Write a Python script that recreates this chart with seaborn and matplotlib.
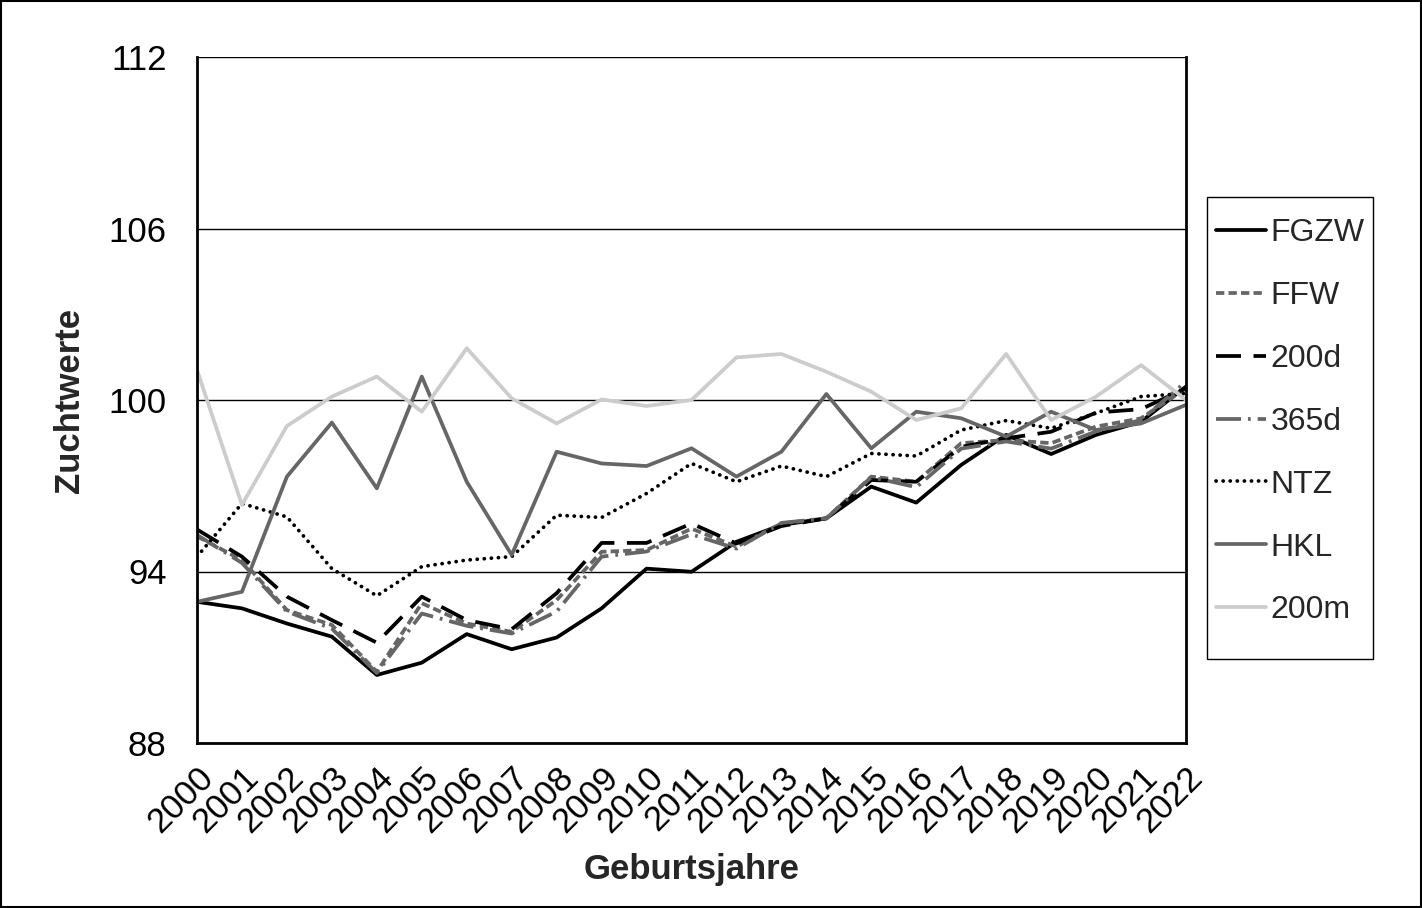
import numpy as np
import pandas as pd
import matplotlib
matplotlib.use("Agg")
import matplotlib.pyplot as plt
import seaborn as sns
from matplotlib.patches import Rectangle

years = list(range(2000, 2023))

fgzw = [92.94, 92.71, 92.18, 91.72, 90.38, 90.81, 91.81, 91.28, 91.69, 92.71, 94.10, 93.99,
        95.04, 95.63, 95.86, 96.97, 96.41, 97.73, 98.78, 98.11, 98.78, 99.24, 100.47]
ffw = [95.23, 94.40, 92.65, 92.13, 90.49, 92.89, 92.18, 91.89, 93.00, 94.69, 94.75, 95.50,
       94.87, 95.68, 95.86, 97.32, 97.14, 98.49, 98.60, 98.49, 99.07, 99.36, 100.41]
d200 = [95.47, 94.52, 93.12, 92.30, 91.51, 93.12, 92.30, 91.98, 93.24, 95.00, 95.00, 95.68,
        94.98, 95.59, 95.86, 97.20, 97.14, 98.36, 98.66, 98.89, 99.56, 99.68, 100.41]
d365 = [95.28, 94.30, 92.60, 92.00, 90.45, 92.53, 92.10, 91.83, 92.60, 94.52, 94.70, 95.30,
        94.80, 95.70, 95.86, 97.30, 96.95, 98.30, 98.55, 98.30, 98.90, 99.30, 100.64]
ntz = [94.52, 96.38, 95.91, 94.10, 93.15, 94.17, 94.40, 94.52, 95.97, 95.89, 96.73, 97.78,
       97.14, 97.69, 97.32, 98.13, 98.04, 98.95, 99.28, 99.01, 99.54, 100.12, 100.23]
hkl = [92.94, 93.29, 97.32, 99.21, 96.91, 100.82, 97.14, 94.58, 98.19, 97.78, 97.69, 98.31,
       97.32, 98.19, 100.21, 98.31, 99.59, 99.36, 98.72, 99.59, 98.95, 99.18, 99.83]
m200 = [101.05, 96.33, 99.09, 100.12, 100.82, 99.59, 101.81, 100.06, 99.18, 100.02, 99.79, 100.00,
        101.49, 101.61, 100.99, 100.29, 99.30, 99.71, 101.61, 99.30, 100.12, 101.22, 100.00]

series = ["FGZW", "FFW", "200d", "365d", "NTZ", "HKL", "200m"]
values = [fgzw, ffw, d200, d365, ntz, hkl, m200]

styles = {
    "FGZW": dict(color="#000000", ls="-"),
    "FFW": dict(color="#666666", ls=(0, (6, 3))),
    "200d": dict(color="#000000", ls=(0, (18, 9))),
    "365d": dict(color="#666666", ls=(0, (18, 5, 2, 5))),
    "NTZ": dict(color="#000000", ls=(0, (0.1, 5))),
    "HKL": dict(color="#666666", ls="-"),
    "200m": dict(color="#cccccc", ls="-"),
}

df = pd.DataFrame({"Jahr": years * len(series),
                   "Wert": sum(values, []),
                   "Serie": np.repeat(series, len(years))})

sns.set_style("white")
plt.rcParams["font.family"] = ["Liberation Sans", "DejaVu Sans"]
plt.rcParams["lines.scale_dashes"] = False

W, H = 1422, 908
fig = plt.figure(figsize=(W / 100, H / 100), dpi=100)
ax = fig.add_axes([197 / W, 1 - 743 / H, (1186 - 197) / W, (743 - 57) / H])

for name in series:
    st = styles[name]
    sns.lineplot(data=df[df["Serie"] == name], x="Jahr", y="Wert", ax=ax, label=name,
                 color=st["color"], linestyle=st["ls"], linewidth=2.7,
                 dash_capstyle="round" if name == "NTZ" else "butt")

ax.set_xlim(2000, 2022)
ax.set_ylim(88, 112)
ax.set_xticks(years)
ax.set_xticklabels([str(y) for y in years], rotation=45, ha="right", rotation_mode="anchor")
ax.set_yticks([88, 94, 100, 106, 112])
ax.tick_params(axis="both", labelsize=25, direction="out", length=7, width=1, colors="#000000")
ax.tick_params(axis="x", pad=6)
ax.tick_params(axis="y", pad=15)
for lab in ax.get_xticklabels() + ax.get_yticklabels():
    lab.set_color("black")
ax.grid(axis="y", color="black", linewidth=1)
ax.grid(axis="x", visible=False)
for s in ["left", "bottom", "right"]:
    ax.spines[s].set_color("black")
    ax.spines[s].set_linewidth(2)
ax.spines["top"].set_visible(False)

ax.set_xlabel("Geburtsjahre", fontsize=25, fontweight="bold", labelpad=10)
ax.set_ylabel("Zuchtwerte", fontsize=25, fontweight="bold", labelpad=16)

# legend entries without frame, box drawn separately (Excel-like padding)
ax.legend(loc="upper left", bbox_to_anchor=(1216 / W, 1 - 218 / H), bbox_transform=fig.transFigure,
          fontsize=23, frameon=False, borderaxespad=0, borderpad=0,
          handlelength=1.55, handletextpad=0.15, labelspacing=1.03)
fig.patches.append(Rectangle((1207 / W, 1 - 659 / H), 166 / W, 462 / H, transform=fig.transFigure,
                             fill=False, edgecolor="black", linewidth=1))

fig.patches.append(Rectangle((0.001, 0.001), 0.998, 0.998, transform=fig.transFigure,
                             fill=False, edgecolor="black", linewidth=1.5))

fig.savefig("out.png", dpi=100)
